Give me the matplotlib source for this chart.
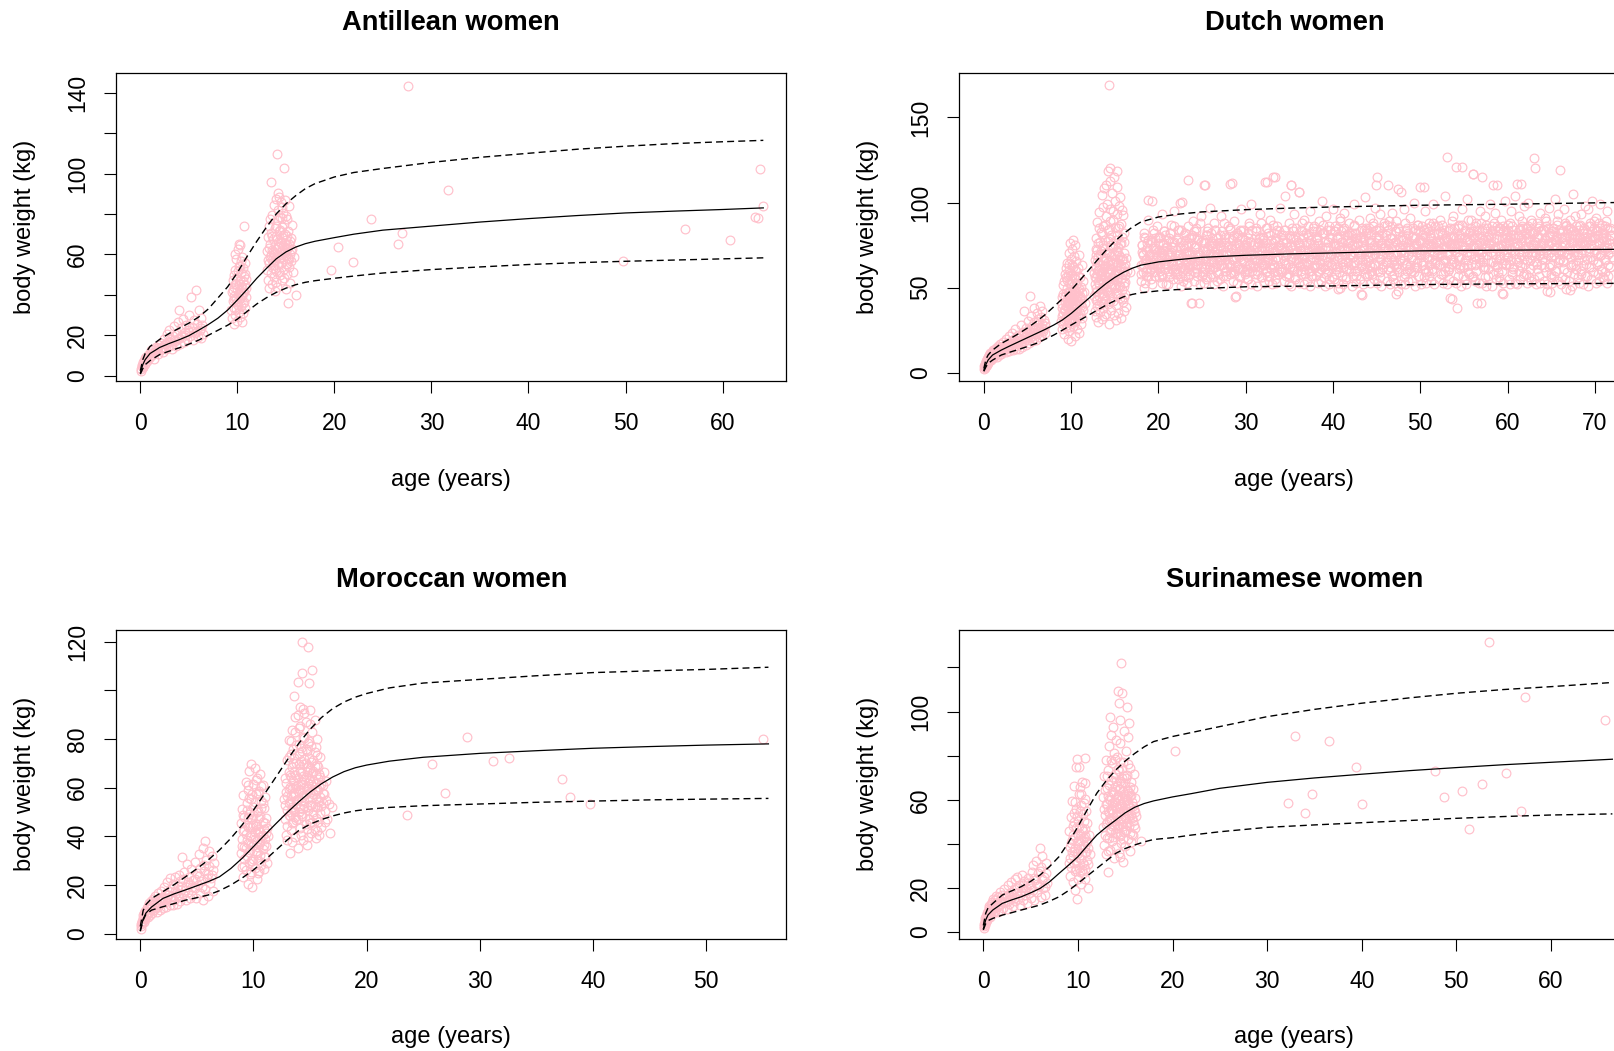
import matplotlib
matplotlib.use("Agg")
import matplotlib.pyplot as plt

plt.rcParams['font.family'] = ['Liberation Sans', 'DejaVu Sans']

PINK = '#FFC0CB'

# ---------------- Antillean women ----------------
antillean_points = [
    (0.05, 3.5), (0.1, 2.5), (0.15, 4.8), (0.2, 5.5), (0.3, 4.2), (0.3, 6.8), (0.4, 7.5), (0.5, 5.9),
    (0.5, 8.8), (0.6, 9.5), (0.7, 7.2), (0.8, 10.2), (0.9, 8.6), (1.0, 11.4), (1.0, 9.3), (1.1, 12.6),
    (1.2, 10.1), (1.3, 13.4), (1.4, 8.2), (1.5, 11.8), (1.6, 14.2), (1.7, 12.5), (1.8, 10.6), (1.9, 15.3),
    (2.0, 12.8), (2.1, 16.4), (2.2, 14.1), (2.3, 11.7), (2.4, 18.2), (2.5, 15.6), (2.6, 13.2), (2.7, 20.4),
    (2.8, 16.8), (2.9, 14.5), (3.0, 22.6), (3.1, 18.1), (3.2, 15.4), (3.3, 13.1), (3.4, 19.7), (3.5, 24.5),
    (3.6, 17.2), (3.7, 14.6), (3.8, 21.3), (3.9, 26.8), (4.0, 18.6), (4.0, 32.5), (4.1, 15.8), (4.2, 23.4),
    (4.3, 19.9), (4.4, 28.1), (4.5, 16.9), (4.6, 21.5), (4.7, 25.2), (4.8, 18.3), (4.9, 22.8), (5.0, 30.1),
    (5.1, 19.5), (5.2, 38.7), (5.3, 24.2), (5.4, 17.6), (5.5, 27.4), (5.6, 21.1), (5.7, 42.6), (5.8, 25.8),
    (5.9, 19.3), (6.0, 32.7), (6.1, 22.4), (6.2, 28.6), (6.3, 18.9), (6.4, 24.9), (6.5, 20.7),
    (0.25, 4.5), (0.65, 8.4), (1.05, 10.5), (1.45, 11.3), (1.85, 13.5), (2.25, 13.4), (2.65, 15.8),
    (3.05, 16.6), (3.45, 17.5), (3.85, 18.0), (4.25, 19.3), (4.65, 20.0), (5.05, 21.7), (5.45, 22.2),
    (5.85, 22.0), (6.25, 23.6),
    (9.3, 32.4), (9.4, 41.2), (9.4, 28.7), (9.5, 36.9), (9.5, 47.3), (9.6, 25.8), (9.6, 39.5), (9.7, 44.1),
    (9.7, 33.6), (9.8, 52.4), (9.8, 30.2), (9.9, 37.8), (9.9, 57.6), (10.0, 42.9), (10.0, 27.3), (10.0, 48.6),
    (10.1, 35.1), (10.1, 62.8), (10.1, 40.4), (10.2, 31.7), (10.2, 54.2), (10.2, 45.5), (10.3, 38.3),
    (10.3, 64.6), (10.3, 29.1), (10.4, 50.7), (10.4, 43.8), (10.4, 34.6), (10.5, 58.9), (10.5, 39.2),
    (10.5, 26.4), (10.6, 46.8), (10.6, 53.1), (10.6, 36.2), (10.7, 74.2), (10.7, 41.6), (10.7, 49.5),
    (10.8, 33.3), (10.8, 55.8), (10.8, 44.7), (10.9, 38.9), (10.9, 47.9), (9.8, 60.1), (10.2, 65.3),
    (9.6, 49.8), (10.4, 56.7), (9.9, 45.2), (10.6, 30.8),
    (9.5, 42.2), (9.7, 38.1), (9.8, 45.6), (10.0, 36.4), (10.1, 51.6), (10.2, 41.0), (10.3, 47.2),
    (10.4, 39.7), (10.5, 44.0), (10.6, 41.3), (10.7, 36.6), (10.8, 50.2), (9.9, 33.1), (10.3, 54.5),
    (10.9, 43.2),
    (13.1, 52.3), (13.1, 61.8), (13.2, 47.5), (13.2, 68.4), (13.3, 55.9), (13.3, 74.2), (13.3, 43.6),
    (13.4, 58.7), (13.4, 65.1), (13.5, 96.0), (13.5, 50.8), (13.5, 70.6), (13.6, 62.4), (13.6, 45.2),
    (13.6, 79.3), (13.7, 56.3), (13.7, 67.8), (13.7, 53.1), (13.8, 84.5), (13.8, 60.2), (13.8, 48.7),
    (13.9, 72.9), (13.9, 57.4), (13.9, 64.6), (14.0, 87.2), (14.0, 51.6), (14.0, 69.3), (14.1, 109.8),
    (14.1, 59.5), (14.1, 76.8), (14.1, 44.1), (14.2, 63.7), (14.2, 82.1), (14.2, 54.8), (14.3, 71.4),
    (14.3, 58.1), (14.3, 88.6), (14.4, 49.9), (14.4, 66.2), (14.4, 78.5), (14.5, 61.3), (14.5, 55.7),
    (14.5, 85.9), (14.6, 73.6), (14.6, 47.4), (14.6, 68.7), (14.7, 57.9), (14.7, 80.4), (14.7, 64.1),
    (14.8, 102.9), (14.8, 52.6), (14.8, 75.2), (14.9, 60.8), (14.9, 70.1), (14.9, 86.8), (15.0, 55.3),
    (15.0, 66.9), (15.0, 42.7), (15.1, 62.5), (15.1, 77.6), (15.1, 50.2), (15.2, 36.0), (15.2, 58.4),
    (15.2, 71.8), (15.3, 64.9), (15.3, 83.7), (15.3, 53.7), (15.4, 60.0), (15.4, 45.9), (15.5, 68.2),
    (15.5, 56.6), (15.6, 74.4), (15.6, 62.9), (15.7, 51.4), (15.8, 58.8), (16.0, 39.8), (13.4, 77.5),
    (14.0, 46.3), (14.2, 90.4), (14.6, 83.3), (15.0, 79.1), (13.9, 41.8), (14.5, 65.7), (13.6, 57.2),
    (13.2, 57.0), (13.3, 63.0), (13.5, 59.6), (13.6, 68.9), (13.7, 61.4), (13.8, 55.0), (14.0, 62.8),
    (14.0, 74.0), (14.1, 67.4), (14.2, 59.0), (14.3, 64.3), (14.4, 72.0), (14.5, 58.9), (14.6, 63.2),
    (14.7, 69.8), (14.8, 61.0), (14.9, 65.4), (15.0, 59.8), (15.1, 69.0), (15.2, 63.6), (15.3, 57.5),
    (15.4, 66.5), (15.5, 61.7), (14.3, 51.4), (14.8, 48.3), (13.9, 52.8), (15.1, 55.4), (14.6, 77.9),
    (19.6, 52.5), (20.4, 63.7), (21.9, 56.0), (23.8, 77.7), (26.5, 65.2), (27.0, 70.6), (27.6, 143.5),
    (31.7, 91.7), (49.7, 56.8), (56.1, 72.8), (60.8, 67.3), (63.3, 78.4), (63.7, 77.9), (63.9, 102.0),
    (64.2, 84.0),
]
antillean_curve_age = [0, 0.25, 0.5, 1, 2, 3, 4, 5, 6, 7, 8, 9, 10, 11, 12, 13, 14, 15, 16, 17, 18,
                       20, 22, 25, 30, 35, 40, 45, 50, 55, 60, 64.2]
antillean_p50 = [1.5, 5.5, 8.0, 11.0, 14.0, 16.0, 17.8, 19.8, 22.5, 25.3, 28.5, 32.5, 37.5, 42.7, 48.2,
                 53.1, 57.8, 61.2, 63.6, 65.3, 66.5, 68.3, 70.0, 72.0, 74.0, 76.0, 77.7, 79.2, 80.5,
                 81.4, 82.2, 83.0]
antillean_hi = [2.5, 8.0, 11.0, 14.5, 18.0, 21.0, 23.5, 26.0, 29.0, 33.0, 38.5, 44.0, 51.0, 59.0, 66.5,
                73.5, 80.0, 85.0, 89.0, 92.5, 95.0, 98.3, 100.5, 102.5, 105.5, 108.0, 110.0, 112.0,
                113.5, 114.8, 115.7, 116.4]
antillean_lo = [0.8, 3.5, 5.5, 7.5, 10.5, 12.2, 13.8, 15.6, 17.6, 20.0, 22.5, 25.0, 28.0, 31.8, 35.5,
                38.6, 41.2, 43.3, 45.0, 46.2, 47.0, 48.2, 49.3, 50.8, 52.5, 53.8, 55.0, 55.9, 56.6,
                57.2, 57.8, 58.3]

# ---------------- Dutch women ----------------
dutch_child_points = [
    (0.02, 2.4), (0.05, 3.8), (0.08, 3.1), (0.1, 4.6), (0.12, 2.9), (0.15, 5.3), (0.2, 4.1), (0.22, 6.2),
    (0.25, 5.0), (0.3, 7.1), (0.33, 4.8), (0.36, 6.5), (0.4, 8.3), (0.43, 5.7), (0.46, 7.6), (0.5, 9.1),
    (0.55, 6.8), (0.6, 10.2), (0.65, 7.9), (0.7, 8.8), (0.75, 11.3), (0.8, 9.6), (0.85, 7.4), (0.9, 12.1),
    (0.95, 10.4), (1.0, 8.5), (1.05, 11.8), (1.1, 13.2), (1.15, 9.9), (1.2, 12.5), (1.3, 10.7), (1.35, 14.4),
    (1.4, 11.6), (1.5, 9.4), (1.55, 13.7), (1.6, 15.6), (1.7, 12.2), (1.75, 10.3), (1.8, 14.9), (1.9, 16.8),
    (1.95, 13.1), (2.0, 11.2), (2.1, 15.4), (2.2, 18.1), (2.25, 12.7), (2.3, 14.2), (2.4, 16.5), (2.5, 19.8),
    (2.55, 11.9), (2.6, 13.8), (2.7, 17.3), (2.8, 15.1), (2.85, 21.4), (2.9, 12.9), (3.0, 16.2), (3.1, 18.7),
    (3.15, 14.3), (3.2, 23.2), (3.3, 13.5), (3.4, 17.6), (3.5, 20.1), (3.55, 15.7), (3.6, 25.6), (3.7, 14.1),
    (3.8, 18.4), (3.9, 22.3), (3.95, 16.6), (4.0, 13.9), (4.1, 19.5), (4.2, 27.8), (4.25, 17.1), (4.3, 21.6),
    (4.4, 15.3), (4.5, 24.1), (4.55, 18.9), (4.6, 36.2), (4.7, 20.7), (4.8, 16.2), (4.85, 26.4), (4.9, 22.8),
    (5.0, 19.3), (5.1, 30.5), (5.15, 17.4), (5.2, 24.9), (5.3, 44.8), (5.35, 21.1), (5.4, 33.6), (5.5, 18.6),
    (5.55, 27.2), (5.6, 23.4), (5.7, 37.9), (5.75, 20.3), (5.8, 29.7), (5.9, 25.5), (6.0, 19.1), (6.05, 35.1),
    (6.1, 22.6), (6.2, 31.4), (6.25, 27.9), (6.3, 20.8), (6.4, 39.2), (6.45, 24.7), (6.5, 33.0), (6.6, 22.1),
    (6.65, 28.8), (6.7, 36.5), (6.8, 25.9), (6.9, 31.2), (7.0, 23.6), (7.05, 29.4),
    (0.18, 3.3), (0.28, 5.9), (0.38, 6.0), (0.48, 8.0), (0.58, 7.3), (0.68, 9.9), (0.78, 8.6), (0.88, 10.9),
    (0.98, 9.5), (1.08, 12.4), (1.25, 11.0), (1.45, 12.9), (1.65, 13.5), (1.85, 12.1), (2.05, 14.6),
    (2.35, 15.9), (2.65, 14.7), (2.95, 17.7), (3.25, 16.1), (3.45, 19.2), (3.75, 17.2), (4.05, 20.6),
    (4.35, 18.3), (4.65, 22.9), (4.95, 20.4), (5.25, 23.8), (5.45, 21.7), (5.65, 26.5), (5.85, 23.0),
    (6.15, 25.6), (6.35, 29.5), (6.55, 26.3), (6.75, 24.4), (6.95, 27.7),
    (8.8, 30.5), (8.9, 38.2), (8.9, 25.7), (9.0, 44.6), (9.0, 33.1), (9.1, 28.4), (9.1, 51.3), (9.2, 36.7),
    (9.2, 22.9), (9.3, 41.8), (9.3, 58.2), (9.3, 31.5), (9.4, 47.1), (9.4, 26.3), (9.5, 64.7), (9.5, 38.9),
    (9.5, 54.4), (9.6, 34.2), (9.6, 20.1), (9.6, 45.3), (9.7, 70.5), (9.7, 29.6), (9.7, 60.1), (9.8, 40.7),
    (9.8, 52.6), (9.8, 24.8), (9.9, 76.3), (9.9, 35.8), (9.9, 48.2), (10.0, 66.9), (10.0, 31.1), (10.0, 43.4),
    (10.0, 18.7), (10.1, 57.5), (10.1, 38.0), (10.1, 72.8), (10.2, 27.2), (10.2, 50.9), (10.2, 62.3),
    (10.3, 44.1), (10.3, 33.7), (10.3, 68.6), (10.4, 21.4), (10.4, 55.7), (10.4, 39.5), (10.5, 74.9),
    (10.5, 46.6), (10.5, 29.9), (10.6, 59.8), (10.6, 36.4), (10.6, 65.4), (10.7, 42.3), (10.7, 25.5),
    (10.7, 53.0), (10.8, 61.7), (10.8, 32.6), (10.8, 47.8), (10.9, 69.2), (10.9, 40.2), (10.9, 23.6),
    (11.0, 56.1), (11.0, 35.3), (11.0, 45.0), (11.1, 28.7), (11.1, 50.4), (11.2, 38.6), (11.2, 63.0),
    (11.3, 43.2), (11.3, 31.9), (11.4, 53.8), (11.4, 36.9), (11.5, 47.4), (11.6, 41.0), (9.4, 56.0),
    (10.2, 78.0),
    (9.0, 40.1), (9.1, 35.0), (9.1, 46.4), (9.2, 30.3), (9.2, 53.7), (9.3, 37.2), (9.3, 44.9), (9.4, 33.0),
    (9.4, 61.8), (9.5, 42.6), (9.5, 28.1), (9.5, 49.7), (9.6, 56.9), (9.6, 39.0), (9.7, 35.4), (9.7, 47.3),
    (9.7, 64.1), (9.8, 31.2), (9.8, 44.6), (9.9, 58.8), (9.9, 41.5), (9.9, 27.0), (10.0, 52.3), (10.0, 38.6),
    (10.1, 47.9), (10.1, 32.4), (10.1, 63.0), (10.2, 43.2), (10.2, 35.8), (10.3, 55.4), (10.3, 49.1),
    (10.4, 30.7), (10.4, 45.8), (10.5, 40.3), (10.5, 60.2), (10.6, 33.1), (10.6, 51.4), (10.7, 45.0),
    (10.7, 37.9), (10.8, 56.7), (10.8, 41.9), (10.9, 33.5), (10.9, 49.3), (11.0, 43.8), (11.1, 39.6),
    (11.2, 47.1), (9.4, 39.3), (10.0, 45.7), (10.6, 41.0), (10.3, 38.9),
    (12.6, 45.2), (12.6, 58.7), (12.7, 36.4), (12.7, 66.1), (12.7, 51.9), (12.8, 79.3), (12.8, 42.5),
    (12.8, 61.4), (12.9, 32.8), (12.9, 55.6), (12.9, 72.7), (13.0, 48.3), (13.0, 88.4), (13.0, 39.1),
    (13.0, 64.9), (13.1, 53.2), (13.1, 29.7), (13.1, 76.5), (13.2, 44.8), (13.2, 60.3), (13.2, 94.6),
    (13.3, 35.6), (13.3, 57.1), (13.3, 69.8), (13.4, 49.4), (13.4, 82.6), (13.4, 41.7), (13.5, 63.5),
    (13.5, 104.2), (13.5, 31.3), (13.6, 54.5), (13.6, 73.4), (13.6, 46.9), (13.7, 86.1), (13.7, 38.2),
    (13.7, 59.9), (13.8, 67.6), (13.8, 108.5), (13.8, 51.1), (13.9, 43.3), (13.9, 78.2), (13.9, 62.7),
    (14.0, 34.5), (14.0, 56.4), (14.0, 91.8), (14.1, 70.9), (14.1, 48.0), (14.1, 99.1), (14.2, 40.6),
    (14.2, 65.2), (14.2, 118.7), (14.3, 168.8), (14.3, 53.7), (14.3, 84.4), (14.3, 28.6), (14.4, 61.0),
    (14.4, 75.3), (14.4, 112.4), (14.5, 45.7), (14.5, 96.3), (14.5, 58.1), (14.6, 37.0), (14.6, 68.4),
    (14.6, 81.0), (14.7, 52.3), (14.7, 105.7), (14.7, 63.9), (14.8, 42.1), (14.8, 73.7), (14.8, 89.9),
    (14.9, 57.5), (14.9, 33.8), (14.9, 115.1), (15.0, 66.7), (15.0, 49.6), (15.0, 101.0), (15.1, 60.6),
    (15.1, 39.8), (15.1, 77.7), (15.2, 54.9), (15.2, 93.5), (15.2, 71.2), (15.3, 46.4), (15.3, 118.3),
    (15.3, 63.1), (15.4, 35.1), (15.4, 84.9), (15.4, 57.8), (15.5, 69.0), (15.5, 51.5), (15.5, 98.2),
    (15.6, 43.9), (15.6, 75.9), (15.6, 61.7), (15.7, 87.3), (15.7, 55.0), (15.7, 31.9), (15.8, 66.0),
    (15.8, 48.8), (15.8, 79.6), (15.9, 58.9), (15.9, 41.4), (15.9, 92.7), (16.0, 70.3), (16.0, 52.7),
    (16.0, 36.2), (16.1, 62.2), (16.1, 82.0), (16.2, 46.1), (16.2, 57.3), (16.3, 67.5), (16.3, 38.4),
    (16.4, 60.0), (13.2, 85.0), (13.6, 97.2), (14.0, 110.3), (14.4, 89.2), (14.8, 56.0), (15.2, 109.0),
    (15.6, 103.5), (13.0, 72.0), (13.4, 58.0), (14.2, 77.6), (14.6, 50.3), (15.0, 85.5), (15.4, 74.0),
    (15.8, 95.5), (16.1, 44.3), (13.8, 33.4), (14.5, 120.0), (15.1, 31.0), (16.8, 59.3),
    (12.7, 56.0), (12.8, 49.6), (12.8, 69.2), (12.9, 62.4), (12.9, 47.7), (13.0, 58.2), (13.0, 43.0),
    (13.1, 68.6), (13.1, 60.5), (13.2, 52.0), (13.2, 39.5), (13.3, 77.0), (13.3, 63.4), (13.4, 55.2),
    (13.4, 71.8), (13.5, 46.6), (13.5, 59.3), (13.5, 81.7), (13.6, 65.8), (13.6, 40.8), (13.7, 52.6),
    (13.7, 74.9), (13.8, 61.6), (13.8, 45.3), (13.9, 56.8), (13.9, 86.9), (14.0, 67.2), (14.0, 49.2),
    (14.1, 62.9), (14.1, 54.1), (14.2, 83.8), (14.2, 47.5), (14.3, 70.4), (14.3, 59.0), (14.4, 42.0),
    (14.4, 66.1), (14.5, 52.4), (14.5, 78.8), (14.6, 61.2), (14.6, 55.6), (14.7, 73.0), (14.7, 44.6),
    (14.8, 64.7), (14.8, 95.1), (14.9, 51.8), (14.9, 69.5), (15.0, 58.7), (15.0, 74.8), (15.1, 47.0),
    (15.1, 65.2), (15.2, 81.1), (15.2, 60.1), (15.3, 53.6), (15.3, 71.7), (15.4, 45.6), (15.4, 64.5),
    (15.5, 57.9), (15.5, 86.0), (15.6, 50.9), (15.6, 68.0), (15.7, 62.5), (15.7, 76.4), (15.8, 55.9),
    (15.8, 43.2), (15.9, 66.9), (16.0, 59.6), (16.0, 76.8), (16.1, 51.2), (16.2, 64.0), (16.2, 53.1),
]
dutch_adult_age = [
    18.04, 18.13, 18.22, 18.35, 18.41, 18.53, 18.66, 18.72, 18.84, 18.95,
    19.08, 19.17, 19.29, 19.33, 19.47, 19.58, 19.61, 19.77, 19.86, 19.92,
    20.02, 20.19, 20.26, 20.38, 20.44, 20.55, 20.69, 20.74, 20.81, 20.97,
    21.04, 21.13, 21.22, 21.35, 21.41, 21.53, 21.66, 21.72, 21.84, 21.95,
    22.08, 22.17, 22.29, 22.33, 22.47, 22.58, 22.61, 22.77, 22.86, 22.92,
    23.02, 23.19, 23.26, 23.38, 23.44, 23.55, 23.69, 23.74, 23.81, 23.97,
    24.04, 24.13, 24.22, 24.35, 24.41, 24.53, 24.66, 24.72, 24.84, 24.95,
    25.08, 25.17, 25.29, 25.33, 25.47, 25.58, 25.61, 25.77, 25.86, 25.92,
    26.02, 26.19, 26.26, 26.38, 26.44, 26.55, 26.69, 26.74, 26.81, 26.97,
    27.04, 27.13, 27.22, 27.35, 27.41, 27.53, 27.66, 27.72, 27.84, 27.95,
    28.08, 28.17, 28.29, 28.33, 28.47, 28.58, 28.61, 28.77, 28.86, 28.92,
    29.02, 29.19, 29.26, 29.38, 29.44, 29.55, 29.69, 29.74, 29.81, 29.97,
    30.04, 30.13, 30.22, 30.35, 30.41, 30.53, 30.66, 30.72, 30.84, 30.95,
    31.08, 31.17, 31.29, 31.33, 31.47, 31.58, 31.61, 31.77, 31.86, 31.92,
    32.02, 32.19, 32.26, 32.38, 32.44, 32.55, 32.69, 32.74, 32.81, 32.97,
    33.04, 33.13, 33.22, 33.35, 33.41, 33.53, 33.66, 33.72, 33.84, 33.95,
    34.08, 34.17, 34.29, 34.33, 34.47, 34.58, 34.61, 34.77, 34.86, 34.92,
    35.02, 35.19, 35.26, 35.38, 35.44, 35.55, 35.69, 35.74, 35.81, 35.97,
    36.04, 36.13, 36.22, 36.35, 36.41, 36.53, 36.66, 36.72, 36.84, 36.95,
    37.08, 37.17, 37.29, 37.33, 37.47, 37.58, 37.61, 37.77, 37.86, 37.92,
    38.02, 38.19, 38.26, 38.38, 38.44, 38.55, 38.69, 38.74, 38.81, 38.97,
    39.04, 39.13, 39.22, 39.35, 39.41, 39.53, 39.66, 39.72, 39.84, 39.95,
    40.08, 40.17, 40.29, 40.33, 40.47, 40.58, 40.61, 40.77, 40.86, 40.92,
    41.02, 41.19, 41.26, 41.38, 41.44, 41.55, 41.69, 41.74, 41.81, 41.97,
    42.04, 42.13, 42.22, 42.35, 42.41, 42.53, 42.66, 42.72, 42.84, 42.95,
    43.08, 43.17, 43.29, 43.33, 43.47, 43.58, 43.61, 43.77, 43.86, 43.92,
    44.02, 44.19, 44.26, 44.38, 44.44, 44.55, 44.69, 44.74, 44.81, 44.97,
    45.04, 45.13, 45.22, 45.35, 45.41, 45.53, 45.66, 45.72, 45.84, 45.95,
    46.08, 46.17, 46.29, 46.33, 46.47, 46.58, 46.61, 46.77, 46.86, 46.92,
    47.02, 47.19, 47.26, 47.38, 47.44, 47.55, 47.69, 47.74, 47.81, 47.97,
    48.04, 48.13, 48.22, 48.35, 48.41, 48.53, 48.66, 48.72, 48.84, 48.95,
    49.08, 49.17, 49.29, 49.33, 49.47, 49.58, 49.61, 49.77, 49.86, 49.92,
    50.02, 50.19, 50.26, 50.38, 50.44, 50.55, 50.69, 50.74, 50.81, 50.97,
    51.04, 51.13, 51.22, 51.35, 51.41, 51.53, 51.66, 51.72, 51.84, 51.95,
    52.08, 52.17, 52.29, 52.33, 52.47, 52.58, 52.61, 52.77, 52.86, 52.92,
    53.02, 53.19, 53.26, 53.38, 53.44, 53.55, 53.69, 53.74, 53.81, 53.97,
    54.04, 54.13, 54.22, 54.35, 54.41, 54.53, 54.66, 54.72, 54.84, 54.95,
    55.08, 55.17, 55.29, 55.33, 55.47, 55.58, 55.61, 55.77, 55.86, 55.92,
    56.02, 56.19, 56.26, 56.38, 56.44, 56.55, 56.69, 56.74, 56.81, 56.97,
    57.04, 57.13, 57.22, 57.35, 57.41, 57.53, 57.66, 57.72, 57.84, 57.95,
    58.08, 58.17, 58.29, 58.33, 58.47, 58.58, 58.61, 58.77, 58.86, 58.92,
    59.02, 59.19, 59.26, 59.38, 59.44, 59.55, 59.69, 59.74, 59.81, 59.97,
    60.04, 60.13, 60.22, 60.35, 60.41, 60.53, 60.66, 60.72, 60.84, 60.95,
    61.08, 61.17, 61.29, 61.33, 61.47, 61.58, 61.61, 61.77, 61.86, 61.92,
    62.02, 62.19, 62.26, 62.38, 62.44, 62.55, 62.69, 62.74, 62.81, 62.97,
    63.04, 63.13, 63.22, 63.35, 63.41, 63.53, 63.66, 63.72, 63.84, 63.95,
    64.08, 64.17, 64.29, 64.33, 64.47, 64.58, 64.61, 64.77, 64.86, 64.92,
    65.02, 65.19, 65.26, 65.38, 65.44, 65.55, 65.69, 65.74, 65.81, 65.97,
    66.04, 66.13, 66.22, 66.35, 66.41, 66.53, 66.66, 66.72, 66.84, 66.95,
    67.08, 67.17, 67.29, 67.33, 67.47, 67.58, 67.61, 67.77, 67.86, 67.92,
    68.02, 68.19, 68.26, 68.38, 68.44, 68.55, 68.69, 68.74, 68.81, 68.97,
    69.04, 69.13, 69.22, 69.35, 69.41, 69.53, 69.66, 69.72, 69.84, 69.95,
    70.08, 70.17, 70.29, 70.33, 70.47, 70.58, 70.61, 70.77, 70.86, 70.92,
    71.02, 71.19, 71.26, 71.38, 71.44, 71.55, 71.69, 71.74, 71.81, 71.97,
    18.01, 18.10, 18.18, 18.27, 18.39, 18.46, 18.57, 18.63, 18.79, 18.88,
    19.06, 19.15, 19.24, 19.31, 19.43, 19.50, 19.64, 19.70, 19.83, 19.99,
    20.03, 20.11, 20.21, 20.30, 20.37, 20.49, 20.59, 20.68, 20.76, 20.90,
    21.01, 21.10, 21.18, 21.27, 21.39, 21.46, 21.57, 21.63, 21.79, 21.88,
    22.06, 22.15, 22.24, 22.31, 22.43, 22.50, 22.64, 22.70, 22.83, 22.99,
    23.03, 23.11, 23.21, 23.30, 23.37, 23.49, 23.59, 23.68, 23.76, 23.90,
    24.01, 24.10, 24.18, 24.27, 24.39, 24.46, 24.57, 24.63, 24.79, 24.88,
    25.06, 25.15, 25.24, 25.31, 25.43, 25.50, 25.64, 25.70, 25.83, 25.99,
    26.03, 26.11, 26.21, 26.30, 26.37, 26.49, 26.59, 26.68, 26.76, 26.90,
    27.01, 27.10, 27.18, 27.27, 27.39, 27.46, 27.57, 27.63, 27.79, 27.88,
    28.06, 28.15, 28.24, 28.31, 28.43, 28.50, 28.64, 28.70, 28.83, 28.99,
    29.03, 29.11, 29.21, 29.30, 29.37, 29.49, 29.59, 29.68, 29.76, 29.90,
    30.01, 30.10, 30.18, 30.27, 30.39, 30.46, 30.57, 30.63, 30.79, 30.88,
    31.06, 31.15, 31.24, 31.31, 31.43, 31.50, 31.64, 31.70, 31.83, 31.99,
    32.03, 32.11, 32.21, 32.30, 32.37, 32.49, 32.59, 32.68, 32.76, 32.90,
    33.01, 33.10, 33.18, 33.27, 33.39, 33.46, 33.57, 33.63, 33.79, 33.88,
    34.06, 34.15, 34.24, 34.31, 34.43, 34.50, 34.64, 34.70, 34.83, 34.99,
    35.03, 35.11, 35.21, 35.30, 35.37, 35.49, 35.59, 35.68, 35.76, 35.90,
    36.01, 36.10, 36.18, 36.27, 36.39, 36.46, 36.57, 36.63, 36.79, 36.88,
    37.06, 37.15, 37.24, 37.31, 37.43, 37.50, 37.64, 37.70, 37.83, 37.99,
    38.03, 38.11, 38.21, 38.30, 38.37, 38.49, 38.59, 38.68, 38.76, 38.90,
    39.01, 39.10, 39.18, 39.27, 39.39, 39.46, 39.57, 39.63, 39.79, 39.88,
    40.06, 40.15, 40.24, 40.31, 40.43, 40.50, 40.64, 40.70, 40.83, 40.99,
    41.03, 41.11, 41.21, 41.30, 41.37, 41.49, 41.59, 41.68, 41.76, 41.90,
    42.01, 42.10, 42.18, 42.27, 42.39, 42.46, 42.57, 42.63, 42.79, 42.88,
    43.06, 43.15, 43.24, 43.31, 43.43, 43.50, 43.64, 43.70, 43.83, 43.99,
    44.03, 44.11, 44.21, 44.30, 44.37, 44.49, 44.59, 44.68, 44.76, 44.90,
    45.01, 45.10, 45.18, 45.27, 45.39, 45.46, 45.57, 45.63, 45.79, 45.88,
    46.06, 46.15, 46.24, 46.31, 46.43, 46.50, 46.64, 46.70, 46.83, 46.99,
    47.03, 47.11, 47.21, 47.30, 47.37, 47.49, 47.59, 47.68, 47.76, 47.90,
    48.01, 48.10, 48.18, 48.27, 48.39, 48.46, 48.57, 48.63, 48.79, 48.88,
    49.06, 49.15, 49.24, 49.31, 49.43, 49.50, 49.64, 49.70, 49.83, 49.99,
    50.03, 50.11, 50.21, 50.30, 50.37, 50.49, 50.59, 50.68, 50.76, 50.90,
    51.01, 51.10, 51.18, 51.27, 51.39, 51.46, 51.57, 51.63, 51.79, 51.88,
    52.06, 52.15, 52.24, 52.31, 52.43, 52.50, 52.64, 52.70, 52.83, 52.99,
    53.03, 53.11, 53.21, 53.30, 53.37, 53.49, 53.59, 53.68, 53.76, 53.90,
    54.01, 54.10, 54.18, 54.27, 54.39, 54.46, 54.57, 54.63, 54.79, 54.88,
    55.06, 55.15, 55.24, 55.31, 55.43, 55.50, 55.64, 55.70, 55.83, 55.99,
    56.03, 56.11, 56.21, 56.30, 56.37, 56.49, 56.59, 56.68, 56.76, 56.90,
    57.01, 57.10, 57.18, 57.27, 57.39, 57.46, 57.57, 57.63, 57.79, 57.88,
    58.06, 58.15, 58.24, 58.31, 58.43, 58.50, 58.64, 58.70, 58.83, 58.99,
    59.03, 59.11, 59.21, 59.30, 59.37, 59.49, 59.59, 59.68, 59.76, 59.90,
    60.01, 60.10, 60.18, 60.27, 60.39, 60.46, 60.57, 60.63, 60.79, 60.88,
    61.06, 61.15, 61.24, 61.31, 61.43, 61.50, 61.64, 61.70, 61.83, 61.99,
    62.03, 62.11, 62.21, 62.30, 62.37, 62.49, 62.59, 62.68, 62.76, 62.90,
    63.01, 63.10, 63.18, 63.27, 63.39, 63.46, 63.57, 63.63, 63.79, 63.88,
    64.06, 64.15, 64.24, 64.31, 64.43, 64.50, 64.64, 64.70, 64.83, 64.99,
    65.03, 65.11, 65.21, 65.30, 65.37, 65.49, 65.59, 65.68, 65.76, 65.90,
    66.01, 66.10, 66.18, 66.27, 66.39, 66.46, 66.57, 66.63, 66.79, 66.88,
    67.06, 67.15, 67.24, 67.31, 67.43, 67.50, 67.64, 67.70, 67.83, 67.99,
    68.03, 68.11, 68.21, 68.30, 68.37, 68.49, 68.59, 68.68, 68.76, 68.90,
    69.01, 69.10, 69.18, 69.27, 69.39, 69.46, 69.57, 69.63, 69.79, 69.88,
    70.06, 70.15, 70.24, 70.31, 70.43, 70.50, 70.64, 70.70, 70.83, 70.99,
    71.03, 71.11, 71.21, 71.30, 71.37, 71.49, 71.59, 71.68, 71.76, 71.90,
    18.05, 18.12, 18.20, 18.28, 18.36, 18.45, 18.55, 18.62, 18.73, 18.85,
    19.07, 19.16, 19.25, 19.34, 19.40, 19.52, 19.60, 19.71, 19.80, 19.94,
    20.00, 20.09, 20.14, 20.23, 20.33, 20.42, 20.51, 20.67, 20.78, 20.87,
    21.05, 21.12, 21.20, 21.28, 21.36, 21.45, 21.55, 21.62, 21.73, 21.85,
    22.07, 22.16, 22.25, 22.34, 22.40, 22.52, 22.60, 22.71, 22.80, 22.94,
    23.00, 23.09, 23.14, 23.23, 23.33, 23.42, 23.51, 23.67, 23.78, 23.87,
    24.05, 24.12, 24.20, 24.28, 24.36, 24.45, 24.55, 24.62, 24.73, 24.85,
    25.07, 25.16, 25.25, 25.34, 25.40, 25.52, 25.60, 25.71, 25.80, 25.94,
    26.00, 26.09, 26.14, 26.23, 26.33, 26.42, 26.51, 26.67, 26.78, 26.87,
    27.05, 27.12, 27.20, 27.28, 27.36, 27.45, 27.55, 27.62, 27.73, 27.85,
    28.07, 28.16, 28.25, 28.34, 28.40, 28.52, 28.60, 28.71, 28.80, 28.94,
    29.00, 29.09, 29.14, 29.23, 29.33, 29.42, 29.51, 29.67, 29.78, 29.87,
    30.05, 30.12, 30.20, 30.28, 30.36, 30.45, 30.55, 30.62, 30.73, 30.85,
    31.07, 31.16, 31.25, 31.34, 31.40, 31.52, 31.60, 31.71, 31.80, 31.94,
    32.00, 32.09, 32.14, 32.23, 32.33, 32.42, 32.51, 32.67, 32.78, 32.87,
    33.05, 33.12, 33.20, 33.28, 33.36, 33.45, 33.55, 33.62, 33.73, 33.85,
    34.07, 34.16, 34.25, 34.34, 34.40, 34.52, 34.60, 34.71, 34.80, 34.94,
    35.00, 35.09, 35.14, 35.23, 35.33, 35.42, 35.51, 35.67, 35.78, 35.87,
    36.05, 36.12, 36.20, 36.28, 36.36, 36.45, 36.55, 36.62, 36.73, 36.85,
    37.07, 37.16, 37.25, 37.34, 37.40, 37.52, 37.60, 37.71, 37.80, 37.94,
    38.00, 38.09, 38.14, 38.23, 38.33, 38.42, 38.51, 38.67, 38.78, 38.87,
    39.05, 39.12, 39.20, 39.28, 39.36, 39.45, 39.55, 39.62, 39.73, 39.85,
    40.07, 40.16, 40.25, 40.34, 40.40, 40.52, 40.60, 40.71, 40.80, 40.94,
    41.00, 41.09, 41.14, 41.23, 41.33, 41.42, 41.51, 41.67, 41.78, 41.87,
    42.05, 42.12, 42.20, 42.28, 42.36, 42.45, 42.55, 42.62, 42.73, 42.85,
    43.07, 43.16, 43.25, 43.34, 43.40, 43.52, 43.60, 43.71, 43.80, 43.94,
    44.00, 44.09, 44.14, 44.23, 44.33, 44.42, 44.51, 44.67, 44.78, 44.87,
    45.05, 45.12, 45.20, 45.28, 45.36, 45.45, 45.55, 45.62, 45.73, 45.85,
    46.07, 46.16, 46.25, 46.34, 46.40, 46.52, 46.60, 46.71, 46.80, 46.94,
    47.00, 47.09, 47.14, 47.23, 47.33, 47.42, 47.51, 47.67, 47.78, 47.87,
    48.05, 48.12, 48.20, 48.28, 48.36, 48.45, 48.55, 48.62, 48.73, 48.85,
    49.07, 49.16, 49.25, 49.34, 49.40, 49.52, 49.60, 49.71, 49.80, 49.94,
    50.00, 50.09, 50.14, 50.23, 50.33, 50.42, 50.51, 50.67, 50.78, 50.87,
    51.05, 51.12, 51.20, 51.28, 51.36, 51.45, 51.55, 51.62, 51.73, 51.85,
    52.07, 52.16, 52.25, 52.34, 52.40, 52.52, 52.60, 52.71, 52.80, 52.94,
    53.00, 53.09, 53.14, 53.23, 53.33, 53.42, 53.51, 53.67, 53.78, 53.87,
    54.05, 54.12, 54.20, 54.28, 54.36, 54.45, 54.55, 54.62, 54.73, 54.85,
    55.07, 55.16, 55.25, 55.34, 55.40, 55.52, 55.60, 55.71, 55.80, 55.94,
    56.00, 56.09, 56.14, 56.23, 56.33, 56.42, 56.51, 56.67, 56.78, 56.87,
    57.05, 57.12, 57.20, 57.28, 57.36, 57.45, 57.55, 57.62, 57.73, 57.85,
    58.07, 58.16, 58.25, 58.34, 58.40, 58.52, 58.60, 58.71, 58.80, 58.94,
    59.00, 59.09, 59.14, 59.23, 59.33, 59.42, 59.51, 59.67, 59.78, 59.87,
    60.05, 60.12, 60.20, 60.28, 60.36, 60.45, 60.55, 60.62, 60.73, 60.85,
    61.07, 61.16, 61.25, 61.34, 61.40, 61.52, 61.60, 61.71, 61.80, 61.94,
    62.00, 62.09, 62.14, 62.23, 62.33, 62.42, 62.51, 62.67, 62.78, 62.87,
    63.05, 63.12, 63.20, 63.28, 63.36, 63.45, 63.55, 63.62, 63.73, 63.85,
    64.07, 64.16, 64.25, 64.34, 64.40, 64.52, 64.60, 64.71, 64.80, 64.94,
    65.00, 65.09, 65.14, 65.23, 65.33, 65.42, 65.51, 65.67, 65.78, 65.87,
    66.05, 66.12, 66.20, 66.28, 66.36, 66.45, 66.55, 66.62, 66.73, 66.85,
    67.07, 67.16, 67.25, 67.34, 67.40, 67.52, 67.60, 67.71, 67.80, 67.94,
    68.00, 68.09, 68.14, 68.23, 68.33, 68.42, 68.51, 68.67, 68.78, 68.87,
    69.05, 69.12, 69.20, 69.28, 69.36, 69.45, 69.55, 69.62, 69.73, 69.85,
    70.07, 70.16, 70.25, 70.34, 70.40, 70.52, 70.60, 70.71, 70.80, 70.94,
    71.00, 71.09, 71.14, 71.23, 71.33, 71.42, 71.51, 71.67, 71.78, 71.87,
]
dutch_adult_wt = [
    58, 71, 64, 82, 53, 67, 76, 61, 90, 69,
    66, 55, 101, 73, 62, 79, 57, 70, 86, 64,
    72, 60, 68, 93, 57, 75, 64, 81, 52, 70,
    63, 78, 56, 69, 87, 61, 74, 66, 95, 59,
    70, 58, 84, 65, 100, 62, 77, 54, 68, 73,
    61, 75, 67, 113, 56, 71, 41, 80, 64, 89,
    74, 59, 69, 85, 63, 78, 41, 66, 92, 57,
    67, 110, 61, 76, 55, 72, 83, 64, 97, 70,
    58, 73, 65, 88, 62, 79, 54, 70, 76, 68,
    75, 63, 92, 57, 69, 81, 66, 60, 74, 86,
    64, 111, 71, 59, 78, 67, 89, 62, 73, 45,
    80, 57, 68, 74, 96, 61, 70, 84, 65, 58,
    69, 77, 55, 88, 63, 72, 99, 60, 75, 66,
    62, 85, 71, 58, 79, 67, 93, 64, 56, 74,
    76, 66, 112, 60, 73, 82, 57, 69, 90, 64,
    71, 115, 63, 78, 55, 86, 67, 74, 61, 97,
    59, 72, 81, 66, 104, 63, 77, 70, 58, 88,
    74, 110, 62, 79, 68, 93, 56, 71, 85, 65,
    67, 106, 75, 60, 83, 72, 64, 90, 58, 77,
    80, 63, 71, 95, 57, 74, 68, 86, 62, 70,
    66, 78, 59, 89, 72, 64, 101, 69, 82, 56,
    73, 61, 92, 68, 77, 55, 84, 70, 63, 96,
    64, 86, 71, 58, 79, 49, 75, 91, 67, 83,
    77, 62, 94, 69, 56, 81, 73, 65, 88, 70,
    60, 75, 68, 99, 63, 82, 57, 76, 71, 90,
    72, 46, 85, 66, 79, 61, 103, 70, 57, 84,
    68, 91, 63, 77, 58, 86, 72, 64, 97, 74,
    115, 70, 81, 59, 93, 67, 76, 62, 88, 73,
    65, 87, 72, 110, 60, 79, 68, 94, 55, 76,
    74, 62, 89, 70, 48, 83, 66, 106, 71, 78,
    69, 96, 58, 77, 64, 85, 73, 61, 91, 67,
    80, 66, 75, 100, 62, 71, 87, 57, 78, 69,
    109, 72, 63, 84, 70, 95, 59, 76, 68, 88,
    67, 81, 74, 60, 99, 70, 86, 65, 77, 72,
    75, 63, 90, 69, 82, 58, 73, 104, 66, 79,
    127, 70, 61, 85, 44, 76, 92, 67, 80, 71,
    73, 121, 38, 68, 87, 62, 79, 96, 57, 74,
    66, 83, 71, 102, 59, 77, 69, 90, 64, 81,
    117, 74, 63, 88, 41, 72, 80, 67, 95, 70,
    115, 68, 78, 61, 92, 73, 85, 57, 76, 99,
    71, 86, 110, 65, 79, 70, 94, 62, 83, 74,
    67, 90, 73, 47, 84, 69, 101, 76, 63, 80,
    78, 64, 88, 72, 95, 59, 81, 70, 104, 67,
    111, 75, 68, 92, 63, 79, 86, 71, 98, 58,
    73, 85, 66, 100, 77, 61, 90, 69, 82, 75,
    126, 120, 70, 88, 64, 79, 94, 72, 84, 67,
    76, 62, 91, 73, 48, 85, 69, 97, 80, 71,
    68, 83, 74, 102, 60, 78, 89, 65, 93, 72,
    119, 71, 80, 66, 96, 75, 49, 87, 70, 84,
    74, 90, 63, 81, 105, 69, 77, 92, 61, 79,
    70, 86, 75, 58, 93, 72, 82, 66, 98, 77,
    80, 67, 96, 73, 88, 62, 78, 101, 71, 85,
    72, 91, 64, 83, 76, 99, 69, 87, 60, 79,
    78, 66, 89, 73, 95, 70, 84, 62, 81, 74,
    63, 75, 59, 69, 80, 66, 72, 57, 78, 64,
    70, 61, 77, 65, 84, 59, 73, 68, 62, 79,
    66, 80, 62, 71, 58, 76, 69, 83, 64, 74,
    74, 60, 68, 82, 65, 71, 77, 63, 86, 58,
    61, 72, 79, 66, 70, 57, 84, 68, 75, 63,
    78, 65, 71, 60, 86, 69, 63, 76, 67, 81,
    68, 83, 63, 74, 59, 79, 71, 66, 88, 62,
    72, 58, 77, 67, 81, 64, 70, 85, 61, 75,
    65, 79, 70, 62, 76, 84, 68, 59, 73, 66,
    81, 67, 74, 63, 69, 88, 60, 77, 71, 64,
    70, 62, 85, 73, 66, 79, 58, 75, 68, 82,
    63, 76, 69, 84, 61, 72, 80, 66, 74, 59,
    75, 68, 61, 79, 86, 64, 71, 77, 62, 70,
    67, 83, 74, 60, 77, 69, 65, 88, 72, 63,
    80, 64, 70, 76, 59, 85, 67, 73, 62, 78,
    66, 74, 87, 62, 71, 79, 68, 60, 83, 75,
    73, 61, 78, 69, 84, 64, 76, 70, 58, 81,
    62, 79, 67, 85, 72, 60, 75, 80, 66, 71,
    77, 69, 63, 74, 88, 67, 81, 61, 72, 65,
    64, 86, 72, 67, 60, 78, 70, 83, 75, 62,
    71, 63, 80, 75, 69, 84, 61, 73, 66, 87,
    82, 68, 74, 59, 77, 65, 86, 70, 63, 79,
    67, 76, 83, 71, 62, 80, 68, 74, 89, 65,
    74, 64, 70, 85, 67, 61, 78, 72, 81, 69,
    63, 81, 75, 68, 87, 71, 65, 79, 60, 76,
    79, 70, 62, 77, 73, 84, 67, 64, 82, 71,
    66, 85, 73, 60, 78, 69, 88, 75, 63, 80,
    72, 63, 79, 84, 67, 75, 70, 61, 86, 74,
    81, 68, 65, 76, 89, 62, 73, 79, 70, 66,
    64, 77, 83, 70, 61, 85, 74, 67, 78, 72,
    75, 66, 71, 88, 79, 63, 82, 69, 74, 60,
    68, 80, 62, 73, 84, 76, 65, 87, 71, 77,
    78, 70, 86, 65, 72, 61, 80, 74, 68, 83,
    63, 82, 75, 79, 67, 88, 71, 64, 76, 69,
    86, 72, 64, 77, 70, 81, 66, 84, 62, 74,
    69, 78, 83, 62, 75, 67, 89, 73, 80, 65,
    76, 64, 71, 85, 68, 79, 63, 77, 87, 72,
    62, 80, 74, 69, 90, 66, 78, 83, 70, 75,
    79, 67, 86, 73, 64, 81, 71, 76, 68, 88,
    71, 84, 65, 78, 74, 62, 87, 69, 80, 73,
    65, 76, 82, 70, 88, 74, 67, 79, 63, 85,
    83, 69, 75, 64, 79, 86, 72, 66, 81, 70,
    68, 87, 73, 80, 66, 76, 84, 62, 74, 79,
    76, 65, 81, 71, 85, 69, 78, 89, 67, 73,
    64, 79, 70, 86, 74, 82, 66, 75, 88, 71,
    82, 71, 77, 65, 80, 73, 86, 69, 76, 63,
    70, 84, 66, 78, 89, 72, 75, 81, 64, 77,
    77, 63, 85, 72, 69, 80, 74, 87, 71, 66,
    67, 79, 74, 83, 65, 71, 88, 76, 82, 70,
    85, 72, 68, 77, 81, 64, 79, 73, 86, 69,
    73, 66, 80, 87, 70, 76, 63, 84, 75, 79,
    64, 82, 77, 71, 86, 68, 75, 80, 66, 89,
    79, 70, 84, 65, 76, 88, 73, 69, 82, 74,
    72, 86, 67, 80, 74, 63, 78, 85, 71, 68,
    54, 75, 62, 70, 50, 79, 66, 59, 73, 57,
    60, 78, 52, 68, 64, 82, 57, 72, 71, 63,
    76, 56, 80, 64, 69, 53, 72, 83, 61, 67,
    52, 71, 79, 58, 82, 65, 74, 55, 77, 61,
    78, 64, 55, 84, 69, 73, 51, 62, 60, 81,
    57, 82, 70, 53, 76, 62, 79, 58, 66, 71,
    80, 54, 74, 61, 83, 57, 68, 69, 52, 77,
    59, 78, 53, 72, 67, 81, 56, 73, 75, 62,
    82, 61, 76, 56, 71, 52, 84, 64, 79, 58,
    55, 77, 66, 83, 51, 74, 62, 80, 57, 70,
    79, 58, 84, 63, 73, 54, 68, 81, 60, 76,
    53, 81, 61, 75, 56, 83, 67, 72, 51, 78,
    74, 55, 71, 82, 59, 77, 52, 69, 84, 63,
    58, 83, 66, 51, 76, 62, 80, 56, 72, 79,
    78, 53, 73, 63, 85, 57, 70, 54, 81, 61,
    52, 76, 59, 82, 67, 53, 84, 72, 58, 75,
    81, 60, 77, 54, 71, 84, 57, 74, 64, 52,
    56, 79, 51, 75, 61, 83, 70, 55, 78, 60,
    76, 53, 72, 84, 58, 64, 80, 52, 69, 82,
    54, 81, 60, 76, 51, 78, 57, 85, 63, 73,
    79, 57, 83, 53, 76, 60, 71, 54, 82, 62,
    51, 77, 58, 84, 63, 74, 52, 80, 69, 56,
    83, 55, 75, 61, 79, 53, 85, 59, 72, 77,
    57, 84, 52, 73, 65, 81, 55, 76, 61, 82,
    78, 51, 82, 57, 75, 86, 60, 53, 79, 66,
    55, 80, 63, 84, 52, 72, 78, 58, 85, 61,
    82, 58, 77, 53, 81, 62, 74, 55, 70, 84,
    53, 78, 60, 85, 56, 76, 51, 82, 64, 73,
    81, 54, 84, 61, 71, 52, 79, 57, 86, 63,
    58, 83, 53, 77, 64, 85, 59, 74, 52, 80,
    78, 56, 74, 52, 84, 60, 81, 54, 77, 63,
    54, 85, 59, 79, 51, 75, 62, 83, 57, 72,
    84, 52, 77, 63, 81, 56, 73, 53, 85, 60,
    57, 80, 54, 86, 61, 76, 52, 82, 66, 74,
    82, 55, 83, 58, 73, 87, 53, 78, 60, 75,
    52, 77, 60, 84, 55, 80, 64, 74, 54, 85,
    79, 53, 76, 57, 86, 61, 81, 51, 75, 62,
    55, 84, 52, 78, 63, 82, 58, 73, 85, 56,
    83, 57, 80, 54, 74, 60, 84, 53, 77, 65,
    53, 79, 62, 85, 56, 76, 51, 83, 61, 81,
    80, 51, 84, 58, 77, 63, 73, 55, 86, 59,
    56, 85, 54, 75, 60, 83, 53, 79, 64, 77,
    84, 55, 78, 52, 81, 58, 86, 61, 74, 53,
    52, 80, 60, 84, 55, 77, 62, 85, 57, 82,
    77, 58, 85, 53, 79, 56, 83, 54, 73, 63,
    55, 83, 52, 77, 61, 85, 57, 80, 53, 75,
    84, 54, 79, 59, 86, 52, 76, 62, 82, 56,
    58, 81, 53, 85, 57, 78, 60, 74, 54, 84,
    82, 52, 77, 56, 84, 61, 80, 55, 86, 59,
    54, 85, 62, 76, 51, 83, 58, 81, 63, 77,
    81, 56, 84, 53, 79, 60, 77, 52, 85, 57,
    57, 78, 51, 86, 62, 80, 55, 83, 59, 75,
    83, 53, 81, 58, 77, 54, 85, 61, 79, 56,
    55, 82, 59, 77, 53, 85, 57, 76, 62, 81,
]
dutch_outliers = [
    (18.8, 101.3), (22.7, 100.3), (25.3, 110.0), (28.4, 111.5), (32.4, 112.0), (33.4, 115.0),
    (35.2, 110.0), (36.1, 106.0), (44.9, 110.0), (47.5, 108.0), (50.4, 109.0), (54.8, 120.9),
    (56.0, 117.0), (58.8, 110.0), (61.5, 111.0), (23.8, 40.7), (28.8, 44.6), (40.8, 49.5),
    (43.3, 45.6), (47.2, 46.5), (53.6, 43.6), (56.9, 40.7), (59.5, 46.5), (64.8, 47.5), (67.1, 48.5),
]
dutch_curve_age = [0, 0.25, 0.5, 1, 2, 3, 4, 5, 6, 7, 8, 9, 10, 11, 12, 13, 14, 15, 16, 17, 18,
                   20, 22, 25, 30, 35, 40, 50, 60, 72.5]
dutch_p50 = [1.5, 5.0, 7.5, 10.4, 13.3, 15.8, 18.2, 20.6, 23.0, 25.4, 28.0, 31.0, 34.8, 39.2, 43.6,
             48.2, 52.4, 56.0, 59.0, 61.4, 63.2, 65.1, 66.3, 67.8, 69.0, 69.8, 70.4, 71.6, 72.0, 72.5]
dutch_hi = [2.5, 8.0, 10.5, 13.3, 17.2, 20.0, 23.0, 26.3, 30.0, 34.0, 38.7, 43.5, 48.5, 54.3, 60.2,
            66.2, 72.0, 77.2, 81.7, 85.5, 88.6, 91.5, 93.0, 94.5, 95.8, 96.7, 97.4, 98.4, 99.0, 100.0]
dutch_lo = [0.8, 3.5, 5.5, 7.4, 10.4, 12.1, 13.7, 15.4, 17.2, 19.6, 22.1, 25.0, 28.0, 30.9, 33.8,
            36.8, 39.7, 42.3, 44.6, 46.0, 47.0, 48.1, 48.8, 49.5, 50.5, 50.8, 51.0, 51.8, 52.2, 52.5]

# ---------------- Moroccan women ----------------
moroccan_points = [
    (0.03, 2.1), (0.06, 3.9), (0.1, 3.0), (0.12, 5.4), (0.16, 4.3), (0.2, 6.6), (0.24, 5.1), (0.28, 7.5),
    (0.32, 4.8), (0.36, 8.4), (0.4, 6.2), (0.45, 9.3), (0.5, 7.4), (0.55, 10.5), (0.6, 8.1), (0.65, 6.9),
    (0.7, 11.4), (0.75, 9.0), (0.8, 12.6), (0.85, 7.8), (0.9, 10.2), (0.95, 13.5), (1.0, 8.7), (1.05, 11.6),
    (1.1, 14.4), (1.15, 9.6), (1.2, 12.3), (1.3, 15.6), (1.35, 10.4), (1.4, 13.1), (1.5, 8.9), (1.55, 16.8),
    (1.6, 11.8), (1.7, 14.2), (1.75, 9.9), (1.8, 17.7), (1.9, 12.6), (1.95, 15.1), (2.0, 10.5), (2.1, 19.2),
    (2.15, 13.7), (2.2, 16.2), (2.3, 11.1), (2.35, 21.3), (2.4, 14.6), (2.5, 17.4), (2.6, 12.0), (2.65, 22.8),
    (2.7, 15.5), (2.8, 18.9), (2.85, 11.6), (2.9, 20.6), (3.0, 14.0), (3.1, 23.5), (3.15, 16.9), (3.2, 12.4),
    (3.3, 19.8), (3.4, 24.2), (3.45, 15.2), (3.5, 21.7), (3.55, 13.3), (3.6, 18.1), (3.7, 31.4), (3.75, 22.6),
    (3.8, 16.4), (3.9, 25.3), (4.0, 13.9), (4.05, 19.4), (4.1, 28.7), (4.2, 17.2), (4.3, 23.1), (4.35, 14.8),
    (4.4, 20.5), (4.5, 26.4), (4.6, 16.1), (4.7, 22.0), (4.8, 18.6), (4.85, 29.5), (4.9, 14.5), (5.0, 24.8),
    (5.1, 20.2), (5.2, 32.6), (5.25, 16.7), (5.3, 27.1), (5.4, 21.5), (5.5, 13.8), (5.55, 35.2), (5.6, 25.6),
    (5.7, 38.3), (5.75, 18.4), (5.8, 30.4), (5.9, 22.9), (6.0, 15.4), (6.05, 34.0), (6.1, 27.8), (6.2, 20.7),
    (6.3, 31.9), (6.35, 24.3), (6.4, 17.6), (6.5, 28.9),
    (0.15, 4.9), (0.35, 6.7), (0.55, 8.6), (0.75, 10.6), (0.95, 11.1), (1.15, 12.9), (1.4, 10.8),
    (1.65, 13.8), (1.9, 14.6), (2.2, 13.1), (2.45, 15.8), (2.75, 14.4), (3.05, 17.6), (3.35, 16.1),
    (3.65, 19.6), (3.95, 18.0), (4.25, 21.3), (4.55, 19.0), (4.85, 22.4), (5.15, 23.7), (5.45, 19.3),
    (5.65, 28.4), (5.95, 24.6), (6.25, 22.7), (6.45, 26.1),
    (8.9, 33.2), (8.9, 45.6), (9.0, 27.4), (9.0, 51.3), (9.0, 38.9), (9.1, 23.5), (9.1, 42.1), (9.1, 56.8),
    (9.2, 30.7), (9.2, 47.9), (9.2, 35.6), (9.3, 62.5), (9.3, 26.1), (9.3, 41.0), (9.4, 53.9), (9.4, 31.8),
    (9.4, 44.7), (9.5, 20.6), (9.5, 37.4), (9.5, 59.2), (9.6, 28.9), (9.6, 49.3), (9.6, 66.8), (9.7, 34.5),
    (9.7, 43.8), (9.7, 24.7), (9.8, 55.4), (9.8, 39.6), (9.8, 69.7), (9.9, 29.8), (9.9, 47.0), (9.9, 19.3),
    (10.0, 36.3), (10.0, 61.4), (10.0, 52.1), (10.1, 27.0), (10.1, 41.7), (10.1, 67.9), (10.2, 33.9),
    (10.2, 57.6), (10.2, 45.2), (10.3, 22.4), (10.3, 38.2), (10.3, 64.1), (10.4, 50.5), (10.4, 30.3),
    (10.4, 43.0), (10.5, 58.7), (10.5, 25.9), (10.5, 36.8), (10.6, 48.4), (10.6, 65.5), (10.6, 32.2),
    (10.7, 40.3), (10.7, 54.6), (10.7, 28.1), (10.8, 46.1), (10.8, 61.0), (10.8, 35.0), (10.9, 51.7),
    (10.9, 26.6), (10.9, 42.9), (11.0, 39.1), (11.0, 56.2), (11.0, 31.4), (11.1, 47.5), (11.1, 36.0),
    (11.2, 43.6), (11.2, 29.2), (11.3, 40.0), (9.5, 48.0), (10.0, 44.5), (10.4, 35.5), (9.8, 30.0),
    (10.6, 42.0),
    (9.0, 36.1), (9.1, 48.7), (9.2, 42.5), (9.3, 35.3), (9.4, 50.9), (9.4, 38.4), (9.5, 44.0), (9.6, 33.6),
    (9.6, 55.8), (9.7, 40.7), (9.7, 50.1), (9.8, 36.8), (9.9, 43.7), (9.9, 57.5), (10.0, 30.9), (10.0, 48.9),
    (10.1, 38.8), (10.1, 54.3), (10.2, 44.2), (10.3, 33.3), (10.3, 50.2), (10.4, 57.9), (10.5, 42.3),
    (10.5, 47.6), (10.6, 37.6), (10.7, 51.5), (10.8, 40.4), (10.8, 53.7), (10.9, 36.5), (11.0, 45.6),
    (11.1, 41.3), (9.2, 27.8), (9.8, 25.5), (10.4, 24.9), (10.9, 31.9), (10.2, 63.3), (9.5, 61.0),
    (10.7, 60.5),
    (12.7, 55.3), (12.8, 47.1), (12.8, 63.8), (12.9, 40.6), (12.9, 58.4), (13.0, 71.2), (13.0, 50.7),
    (13.0, 44.3), (13.1, 66.5), (13.1, 53.9), (13.1, 79.6), (13.2, 33.2), (13.2, 60.1), (13.2, 48.5),
    (13.3, 74.0), (13.3, 42.8), (13.3, 56.6), (13.4, 68.3), (13.4, 37.5), (13.4, 83.9), (13.5, 51.2),
    (13.5, 62.7), (13.5, 45.9), (13.6, 97.7), (13.6, 57.8), (13.6, 72.4), (13.7, 39.9), (13.7, 65.2),
    (13.7, 89.1), (13.8, 53.4), (13.8, 46.6), (13.8, 77.5), (13.9, 103.6), (13.9, 61.0), (13.9, 35.1),
    (14.0, 69.9), (14.0, 50.1), (14.0, 84.6), (14.1, 58.9), (14.1, 43.5), (14.1, 93.3), (14.2, 66.1),
    (14.2, 54.7), (14.2, 76.2), (14.3, 120.0), (14.3, 107.0), (14.3, 48.2), (14.3, 62.4), (14.4, 81.0),
    (14.4, 38.7), (14.4, 57.1), (14.5, 71.7), (14.5, 90.5), (14.5, 52.6), (14.6, 64.3), (14.6, 44.9),
    (14.6, 86.8), (14.7, 59.6), (14.7, 75.1), (14.7, 36.4), (14.8, 117.7), (14.8, 68.6), (14.8, 50.8),
    (14.9, 102.9), (14.9, 56.0), (14.9, 79.3), (15.0, 63.1), (15.0, 45.4), (15.0, 92.0), (15.1, 70.5),
    (15.1, 53.0), (15.1, 41.2), (15.2, 108.4), (15.2, 60.7), (15.2, 82.7), (15.3, 48.9), (15.3, 66.9),
    (15.3, 57.3), (15.4, 74.8), (15.4, 43.1), (15.4, 88.0), (15.5, 55.5), (15.5, 62.0), (15.5, 39.3),
    (15.6, 69.4), (15.6, 51.9), (15.6, 80.2), (15.7, 46.0), (15.7, 59.0), (15.8, 40.6), (15.8, 65.7),
    (15.8, 54.2), (15.9, 72.6), (15.9, 49.5), (16.0, 61.6), (16.0, 44.0), (16.1, 57.9), (16.2, 66.4),
    (16.3, 50.3), (16.4, 62.9), (16.5, 47.2), (16.7, 53.3), (16.8, 41.5), (16.9, 52.0), (13.4, 52.0),
    (13.8, 60.5), (14.2, 70.8), (14.6, 75.9), (15.0, 58.2), (15.4, 52.4), (13.1, 59.3), (13.7, 47.8),
    (14.4, 64.9), (14.9, 47.3), (15.3, 71.5), (15.7, 63.7), (13.5, 70.0), (14.1, 51.7), (14.8, 61.9),
    (15.2, 46.1), (16.1, 53.8), (13.3, 64.6), (14.0, 77.8), (14.7, 43.0), (15.5, 76.8), (13.9, 55.4),
    (14.5, 59.8),
    (12.8, 52.9), (12.9, 61.9), (13.0, 56.5), (13.1, 48.6), (13.1, 72.8), (13.2, 65.3), (13.2, 54.4),
    (13.3, 49.9), (13.3, 79.0), (13.4, 60.0), (13.4, 45.5), (13.5, 57.0), (13.5, 76.1), (13.6, 66.4),
    (13.6, 50.6), (13.7, 82.8), (13.7, 59.7), (13.8, 70.3), (13.8, 55.1), (13.9, 64.0), (13.9, 47.1),
    (14.0, 58.3), (14.0, 73.7), (14.1, 66.9), (14.1, 85.2), (14.2, 61.5), (14.2, 49.0), (14.3, 75.2),
    (14.3, 56.3), (14.4, 69.6), (14.4, 51.2), (14.5, 80.3), (14.5, 63.7), (14.6, 57.4), (14.6, 70.1),
    (14.7, 66.6), (14.7, 52.0), (14.8, 78.4), (14.8, 58.6), (14.9, 64.1), (14.9, 72.3), (15.0, 52.7),
    (15.0, 68.0), (15.1, 61.4), (15.1, 77.0), (15.2, 55.7), (15.2, 66.0), (15.3, 62.7), (15.3, 50.1),
    (15.4, 69.0), (15.4, 58.9), (15.5, 65.3), (15.5, 47.7), (15.6, 59.4), (15.6, 73.5), (15.7, 54.6),
    (15.7, 68.4), (15.8, 60.3), (15.9, 56.0), (15.9, 64.4), (16.0, 52.3), (16.1, 61.0), (16.2, 57.6),
    (16.3, 45.8), (16.4, 55.0), (13.9, 90.0), (14.4, 92.5), (15.0, 86.0), (14.2, 40.7), (15.6, 42.4),
    (13.0, 38.5), (14.8, 39.6),
    (23.6, 48.6), (25.8, 69.6), (26.9, 58.0), (28.9, 80.8), (31.2, 70.8), (32.6, 72.0), (37.3, 63.7),
    (38.0, 56.3), (39.7, 53.3), (55.0, 80.0),
]
moroccan_curve_age = [0, 0.25, 0.5, 1, 2, 3, 4, 5, 6, 7, 8, 9, 10, 11, 12, 13, 14, 15, 16, 17, 18,
                      19, 20, 22, 25, 30, 35, 40, 45, 50, 55.5]
moroccan_p50 = [1.5, 6.0, 8.5, 11.0, 14.5, 16.4, 18.0, 19.7, 21.4, 23.4, 26.8, 31.0, 35.8, 40.6, 45.3,
                49.9, 54.2, 58.2, 61.6, 64.4, 66.6, 68.2, 69.3, 70.9, 72.5, 74.1, 75.2, 76.2, 76.9,
                77.5, 78.0]
moroccan_hi = [3.0, 9.5, 12.0, 14.5, 17.3, 20.2, 23.4, 26.7, 30.3, 34.4, 39.2, 44.7, 50.8, 57.6, 64.5,
               71.5, 78.2, 84.0, 88.8, 92.5, 95.2, 97.2, 98.7, 101.0, 103.0, 104.5, 106.0, 107.3,
               108.0, 108.6, 109.5]
moroccan_lo = [1.0, 5.5, 8.0, 9.7, 11.1, 12.4, 13.8, 14.8, 15.9, 17.7, 20.0, 22.9, 26.2, 30.2, 34.4,
               38.6, 42.4, 45.0, 46.9, 48.4, 49.6, 50.5, 51.1, 51.9, 52.6, 53.3, 54.0, 54.5, 55.0,
               55.3, 55.6]

# ---------------- Surinamese women ----------------
surinamese_points = [
    (0.03, 2.0), (0.06, 3.7), (0.1, 2.8), (0.13, 5.1), (0.17, 4.0), (0.2, 6.3), (0.25, 4.7), (0.3, 7.4),
    (0.34, 5.6), (0.38, 8.5), (0.42, 6.4), (0.47, 9.6), (0.5, 7.2), (0.55, 10.7), (0.6, 8.1), (0.65, 11.8),
    (0.7, 6.9), (0.75, 9.4), (0.8, 12.9), (0.85, 8.3), (0.9, 13.8), (0.95, 10.1), (1.0, 15.2), (1.05, 8.8),
    (1.1, 12.0), (1.2, 14.6), (1.25, 9.5), (1.3, 16.3), (1.4, 11.2), (1.45, 13.4), (1.5, 9.1), (1.6, 15.7),
    (1.7, 12.3), (1.8, 18.1), (1.85, 10.2), (1.9, 14.3), (2.0, 16.9), (2.1, 11.0), (2.2, 19.4), (2.3, 13.5),
    (2.4, 15.8), (2.5, 10.6), (2.6, 21.2), (2.7, 17.3), (2.75, 12.7), (2.8, 14.9), (2.9, 22.6), (3.0, 16.1),
    (3.1, 11.8), (3.2, 19.7), (3.3, 24.3), (3.4, 13.9), (3.5, 17.6), (3.6, 25.1), (3.7, 15.0), (3.8, 21.4),
    (3.9, 12.5), (4.0, 18.8), (4.1, 26.0), (4.2, 14.4), (4.3, 23.0), (4.4, 16.7), (4.5, 20.1), (4.6, 13.2),
    (4.7, 24.7), (4.8, 17.9), (4.9, 21.9), (5.0, 15.4), (5.1, 27.4), (5.2, 19.1), (5.3, 30.2), (5.4, 14.7),
    (5.5, 23.8), (5.6, 32.3), (5.7, 18.4), (5.8, 26.6), (5.9, 21.0), (6.0, 38.0), (6.05, 15.9), (6.1, 29.3),
    (6.2, 34.6), (6.3, 19.9), (6.4, 25.2), (6.5, 16.6), (6.6, 31.5), (6.7, 22.3),
    (0.15, 3.4), (0.35, 6.0), (0.55, 7.9), (0.75, 10.3), (0.95, 11.6), (1.15, 10.8), (1.35, 13.0),
    (1.55, 12.0), (1.75, 14.7), (2.05, 13.6), (2.35, 16.2), (2.65, 14.2), (2.95, 18.2), (3.25, 15.3),
    (3.55, 19.8), (3.85, 16.9), (4.15, 21.3), (4.45, 18.5), (4.75, 22.4), (5.05, 19.9), (5.35, 24.6),
    (5.65, 21.6), (5.95, 27.8), (6.25, 24.0), (6.55, 20.4), (6.65, 27.0),
    (9.1, 31.4), (9.1, 45.8), (9.2, 25.3), (9.2, 38.6), (9.3, 52.1), (9.3, 29.7), (9.4, 41.9), (9.4, 59.3),
    (9.5, 34.5), (9.5, 22.8), (9.5, 48.0), (9.6, 36.9), (9.6, 66.2), (9.7, 27.6), (9.7, 43.3), (9.8, 55.7),
    (9.8, 32.0), (9.8, 74.8), (9.9, 40.2), (9.9, 78.4), (9.9, 14.8), (10.0, 24.1), (10.0, 50.4),
    (10.0, 35.7), (10.1, 74.7), (10.1, 62.8), (10.1, 29.0), (10.2, 44.6), (10.2, 37.8), (10.3, 57.5),
    (10.3, 21.6), (10.3, 33.1), (10.4, 47.2), (10.4, 68.0), (10.5, 39.4), (10.5, 26.7), (10.5, 53.6),
    (10.6, 42.5), (10.6, 30.5), (10.7, 60.4), (10.7, 36.3), (10.8, 78.8), (10.8, 46.9), (10.8, 23.9),
    (10.9, 40.8), (10.9, 54.9), (11.0, 32.8), (11.0, 49.5), (11.1, 38.0), (11.1, 20.1), (11.2, 44.0),
    (11.3, 35.2), (9.6, 50.0), (10.2, 65.6), (10.6, 58.6), (9.7, 18.9), (10.4, 28.3), (10.0, 44.0),
    (9.2, 33.4), (9.3, 40.5), (9.4, 36.2), (9.5, 43.9), (9.6, 31.4), (9.6, 54.1), (9.7, 38.3), (9.8, 47.2),
    (9.8, 28.8), (9.9, 35.4), (9.9, 52.7), (10.0, 41.1), (10.1, 33.6), (10.1, 48.0), (10.2, 27.3),
    (10.2, 55.0), (10.3, 41.7), (10.4, 35.0), (10.5, 45.8), (10.5, 31.3), (10.6, 50.3), (10.7, 39.2),
    (10.7, 28.5), (10.8, 43.6), (10.9, 36.1), (11.0, 41.4), (11.1, 30.9), (10.3, 62.5), (9.7, 59.0),
    (10.8, 67.5),
    (12.7, 47.6), (12.7, 61.2), (12.8, 39.4), (12.8, 70.8), (12.9, 53.3), (12.9, 44.0), (13.0, 78.1),
    (13.0, 57.9), (13.0, 35.2), (13.1, 65.4), (13.1, 49.8), (13.2, 27.4), (13.2, 73.6), (13.2, 55.1),
    (13.3, 42.7), (13.3, 84.2), (13.3, 60.3), (13.4, 97.4), (13.4, 51.6), (13.4, 37.3), (13.5, 68.9),
    (13.5, 46.2), (13.5, 89.6), (13.6, 58.6), (13.6, 41.1), (13.6, 76.5), (13.7, 53.9), (13.7, 93.1),
    (13.7, 63.7), (13.8, 33.5), (13.8, 48.4), (13.8, 81.3), (13.9, 59.2), (13.9, 44.8), (13.9, 71.9),
    (14.0, 87.0), (14.0, 52.7), (14.0, 38.5), (14.1, 66.3), (14.1, 56.4), (14.1, 79.4), (14.2, 109.5),
    (14.2, 47.0), (14.2, 62.1), (14.3, 103.8), (14.3, 35.9), (14.3, 73.0), (14.4, 54.5), (14.4, 85.6),
    (14.4, 43.6), (14.5, 64.8), (14.5, 50.2), (14.5, 96.0), (14.6, 121.9), (14.6, 58.0), (14.6, 40.3),
    (14.7, 108.3), (14.7, 69.7), (14.7, 48.9), (14.8, 77.2), (14.8, 55.3), (14.8, 31.6), (14.9, 62.6),
    (14.9, 91.4), (14.9, 45.4), (15.0, 67.5), (15.0, 52.0), (15.0, 38.9), (15.1, 82.0), (15.1, 59.7),
    (15.1, 46.5), (15.2, 102.3), (15.2, 71.1), (15.2, 54.0), (15.3, 42.2), (15.3, 63.9), (15.3, 88.5),
    (15.4, 95.0), (15.4, 57.2), (15.4, 48.1), (15.5, 74.3), (15.5, 61.5), (15.5, 36.7), (15.6, 53.1),
    (15.6, 68.2), (15.7, 44.4), (15.7, 58.8), (15.8, 65.0), (15.8, 50.6), (15.9, 56.0), (15.9, 71.7),
    (16.0, 47.3), (16.0, 60.9), (16.1, 52.5), (16.7, 41.4), (13.1, 58.0), (13.5, 55.8), (13.9, 65.9),
    (14.3, 57.0), (14.7, 61.0), (15.1, 51.3), (15.5, 66.0), (13.6, 48.0), (14.0, 60.4), (14.4, 68.4),
    (14.8, 42.0), (15.2, 60.0), (13.3, 50.9), (14.1, 45.1), (14.9, 54.8), (15.6, 41.0),
    (12.8, 56.0), (12.9, 64.5), (13.0, 49.0), (13.1, 42.8), (13.1, 71.0), (13.2, 61.6), (13.3, 54.0),
    (13.3, 66.9), (13.4, 45.3), (13.4, 59.7), (13.5, 77.9), (13.5, 51.0), (13.6, 64.2), (13.6, 55.5),
    (13.7, 43.0), (13.7, 70.5), (13.8, 58.9), (13.8, 62.7), (13.9, 50.6), (13.9, 78.3), (14.0, 56.9),
    (14.0, 68.3), (14.1, 48.6), (14.1, 61.2), (14.2, 73.9), (14.2, 54.3), (14.3, 65.1), (14.3, 47.9),
    (14.4, 59.9), (14.4, 77.0), (14.5, 56.1), (14.5, 44.7), (14.6, 67.4), (14.6, 51.5), (14.7, 74.4),
    (14.7, 57.4), (14.8, 63.8), (14.8, 48.2), (14.9, 70.6), (14.9, 59.0), (15.0, 46.1), (15.0, 61.9),
    (15.1, 54.7), (15.1, 69.9), (15.2, 49.5), (15.2, 64.6), (15.3, 57.7), (15.3, 76.1), (15.4, 52.6),
    (15.4, 63.0), (15.5, 56.5), (15.5, 44.9), (15.6, 62.3), (15.7, 51.9), (15.8, 57.1), (15.9, 48.7),
    (16.0, 54.4), (15.8, 44.0), (13.2, 36.6), (14.5, 34.2),
    (20.3, 82.0), (32.2, 58.7), (32.9, 89.1), (34.0, 54.2), (34.7, 62.6), (36.5, 86.5), (39.4, 74.7),
    (40.0, 58.1), (47.8, 73.0), (48.7, 61.4), (50.6, 64.1), (51.3, 46.6), (52.7, 67.0), (53.5, 131.6),
    (55.3, 72.3), (56.8, 55.1), (57.3, 106.5), (65.7, 96.2),
]
surinamese_curve_age = [0, 0.25, 0.5, 1, 2, 3, 4, 5, 6, 7, 8, 9, 10, 11, 12, 13, 14, 15, 16, 17, 18,
                        20, 22, 25, 30, 35, 40, 45, 50, 55, 60, 66.5]
surinamese_p50 = [1.5, 5.5, 7.8, 10.0, 13.0, 14.6, 16.0, 17.8, 19.8, 22.8, 26.6, 30.3, 34.2, 39.2, 44.0,
                  47.6, 50.8, 54.1, 56.6, 58.3, 59.5, 61.3, 62.8, 65.2, 67.9, 69.9, 71.6, 73.2, 74.6,
                  75.9, 77.0, 78.4]
surinamese_hi = [3.0, 8.5, 11.0, 13.0, 16.8, 18.7, 20.6, 23.0, 25.9, 29.7, 34.2, 40.6, 47.8, 55.6, 63.0,
                 68.7, 73.5, 77.6, 81.0, 84.0, 86.4, 88.7, 90.5, 93.2, 97.7, 101.0, 103.8, 106.2,
                 108.3, 110.0, 111.3, 113.2]
surinamese_lo = [1.0, 3.8, 5.2, 6.2, 7.7, 8.8, 10.0, 11.1, 12.3, 14.0, 16.0, 18.8, 22.1, 25.5, 28.9,
                 32.3, 35.7, 37.9, 39.5, 40.9, 42.0, 42.8, 44.0, 45.5, 47.5, 48.6, 49.6, 50.6, 51.6,
                 52.4, 53.1, 53.6]


def draw_panel(ax, title, ages, weights, curve_age, p50, hi, lo,
               xlim, ylim, xticks, yticks, ylabels):
    ax.plot(ages, weights, linestyle='none', marker='o', ms=6.3,
            mfc='none', mec=PINK, mew=0.85, zorder=1)
    ax.plot(curve_age, p50, color='black', lw=0.9, zorder=3)
    for band in (hi, lo):
        ax.plot(curve_age, band, color='black', lw=1.0, ls=(0, (5, 3)), zorder=3)

    ax.set_xlim(*xlim)
    ax.set_ylim(*ylim)
    ax.set_xticks(xticks, labels=[str(t) for t in xticks])
    ax.set_yticks(yticks, labels=ylabels)
    ax.tick_params(direction='out', length=8.6, width=0.8, labelsize=16.5)
    ax.tick_params(axis='x', pad=14)
    ax.tick_params(axis='y', pad=11, labelrotation=90)
    for lab in ax.get_yticklabels():
        lab.set_va('center')
    for s in ax.spines.values():
        s.set_linewidth(0.9)

    ax.set_xlabel('age (years)', fontsize=17)
    ax.xaxis.label.set_va('center')
    ax.xaxis.set_label_coords(0.5, -0.320)
    ax.set_ylabel('body weight (kg)', fontsize=17)
    ax.yaxis.label.set_va('center')
    ax.yaxis.set_label_coords(-0.136, 0.5)
    ax.text(0.5, 1.163, title, transform=ax.transAxes, ha='center', va='center',
            fontsize=19.7, fontweight='bold')


fig = plt.figure(figsize=(16.14, 10.51), dpi=100)

W = 0.41512
ax1 = fig.add_axes([0.07206, 0.63749, W, 0.29305])
ax2 = fig.add_axes([0.59442, 0.63749, W, 0.29305])
ax3 = fig.add_axes([0.07206, 0.10685, W, 0.29372])
ax4 = fig.add_axes([0.59442, 0.10685, W, 0.29372])

a_age, a_wt = zip(*antillean_points)
draw_panel(ax1, 'Antillean women', a_age, a_wt,
           antillean_curve_age, antillean_p50, antillean_hi, antillean_lo,
           (-2.48, 66.57), (-2.6, 149.7), range(0, 61, 10), range(0, 141, 20),
           ['0', '20', '', '60', '', '100', '', '140'])

dc_age, dc_wt = zip(*dutch_child_points)
do_age, do_wt = zip(*dutch_outliers)
d_age = list(dc_age) + dutch_adult_age + list(do_age)
d_wt = list(dc_wt) + dutch_adult_wt + list(do_wt)
draw_panel(ax2, 'Dutch women', d_age, d_wt,
           dutch_curve_age, dutch_p50, dutch_hi, dutch_lo,
           (-2.8, 73.95), (-4.87, 176.1), range(0, 71, 10), [0, 50, 100, 150],
           ['0', '50', '100', '150'])

m_age, m_wt = zip(*moroccan_points)
draw_panel(ax3, 'Moroccan women', m_age, m_wt,
           moroccan_curve_age, moroccan_p50, moroccan_hi, moroccan_lo,
           (-2.12, 57.08), (-2.05, 124.8), range(0, 51, 10), range(0, 121, 20),
           ['0', '20', '40', '60', '80', '', '120'])

s_age, s_wt = zip(*surinamese_points)
draw_panel(ax4, 'Surinamese women', s_age, s_wt,
           surinamese_curve_age, surinamese_p50, surinamese_hi, surinamese_lo,
           (-2.53, 68.3), (-3.0, 137.0), range(0, 61, 10), range(0, 121, 20),
           ['0', '20', '', '60', '', '100', ''])

fig.savefig('out.png', dpi=100)
